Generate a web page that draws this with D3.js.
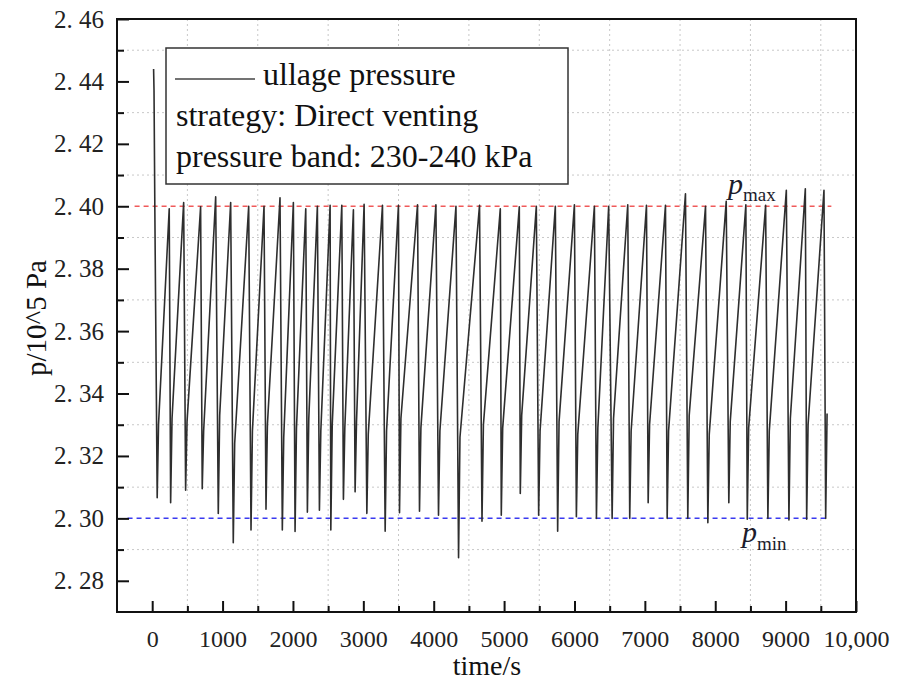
<!DOCTYPE html>
<html>
<head>
<meta charset="utf-8">
<script src="https://cdn.jsdelivr.net/npm/d3@7"></script>
<style>
  body { margin: 0; background: #fff; }
  svg text { font-family: "Liberation Serif", "Times New Roman", serif !important; }
</style>
</head>
<body>
<div id="chart"></div>
<script>
// ---- data
// start of the record: spike from the initial fill pressure
var startT = [20, 26, 38, 71];
var startP = [2.4440, 2.4370, 2.3980, 2.3066];

// top of every venting cycle (s, 10^5 Pa)
var peakT = [242, 447, 688, 902, 1115, 1371, 1589, 1816, 2006, 2182,
             2347, 2528, 2694, 2859, 3011, 3272, 3499, 3770, 4031, 4316,
             4651, 4946, 5216, 5458, 5728, 5999, 6283, 6486, 6757, 7023,
             7293, 7577, 7862, 8156, 8435, 8716, 9010, 9280, 9545];
var peakP = [2.3992, 2.4012, 2.3998, 2.4030, 2.4012, 2.4000, 2.4000, 2.4027, 2.4012, 2.3992,
             2.4000, 2.4003, 2.4003, 2.3989, 2.4006, 2.4003, 2.4003, 2.4005, 2.4005, 2.4000,
             2.4003, 2.3992, 2.3998, 2.4000, 2.4000, 2.4005, 2.4000, 2.4000, 2.4005, 2.4003,
             2.4003, 2.4040, 2.4000, 2.4016, 2.4005, 2.4003, 2.4051, 2.4056, 2.4051];

// bottom of each vent drop
var troughT = [262, 475, 711, 939, 1152, 1404, 1617, 1849, 2030, 2205,
               2376, 2538, 2717, 2883, 3050, 3310, 3514, 3798, 4068, 4353,
               4686, 4960, 5230, 5491, 5761, 6027, 6312, 6535, 6785, 7047,
               7317, 7610, 7895, 8193, 8455, 8748, 9047, 9299, 9569];
var troughP = [2.3050, 2.3090, 2.3095, 2.3016, 2.2922, 2.2963, 2.3029, 2.2963, 2.2958, 2.3020,
               2.3026, 2.2963, 2.3061, 2.3085, 2.3016, 2.2959, 2.3018, 2.3023, 2.3010, 2.2874,
               2.2991, 2.3010, 2.3080, 2.3010, 2.2959, 2.3005, 2.3000, 2.3000, 2.3000, 2.3050,
               2.3000, 2.3000, 2.2986, 2.3050, 2.2997, 2.3000, 2.2995, 2.2997, 2.3000];

// quick rebound right after the vent closes, then the slow rise
var reboundT = [90, 282, 495, 731, 959, 1172, 1424, 1637, 1869, 2050, 2225,
                2396, 2558, 2737, 2903, 3070, 3330, 3534, 3818, 4088, 4373,
                4706, 4980, 5250, 5511, 5781, 6047, 6332, 6555, 6805, 7067,
                7337, 7630, 7915, 8213, 8475, 8768, 9067, 9319, 9589];
var reboundP = [2.3300, 2.3320, 2.3310, 2.3280, 2.3330, 2.3240, 2.3280, 2.3300, 2.3260, 2.3290, 2.3320,
                2.3280, 2.3300, 2.3290, 2.3310, 2.3270, 2.3280, 2.3320, 2.3290, 2.3280, 2.3260,
                2.3300, 2.3290, 2.3330, 2.3280, 2.3310, 2.3270, 2.3290, 2.3320, 2.3280, 2.3300,
                2.3280, 2.3330, 2.3270, 2.3310, 2.3290, 2.3280, 2.3320, 2.3300, 2.3336];

var pMax = 2.40, pMin = 2.30;
var bandT = [-250, 9650];

var xMajor = [0, 1000, 2000, 3000, 4000, 5000, 6000, 7000, 8000, 9000, 10000];
var xMinor = [500, 1500, 2500, 3500, 4500, 5500, 6500, 7500, 8500, 9500];
var yMajor = [2.28, 2.30, 2.32, 2.34, 2.36, 2.38, 2.40, 2.42, 2.44, 2.46];
var yMinor = [2.29, 2.31, 2.33, 2.35, 2.37, 2.39, 2.41, 2.43, 2.45];

var legendLines = ["ullage pressure", "strategy: Direct venting", "pressure band: 230-240 kPa"];

// ---- plotting init
var W = 897, H = 682;
var plot = {left: 117, right: 856, top: 19, bottom: 612};

var svg = d3.select("#chart")
  .append("svg")
    .attr("width", W)
    .attr("height", H);

var xScale = d3.scaleLinear()
    .domain([-500, 10000])
    .range([plot.left, plot.right]);

var yScale = d3.scaleLinear()
    .domain([2.27, 2.46])
    .range([plot.bottom, plot.top]);

// build the series in time order
var series = [];
startT.forEach((t, i) => series.push({x: t, y: startP[i]}));
series.push({x: reboundT[0], y: reboundP[0]});
peakT.forEach((t, i) => {
    series.push({x: t, y: peakP[i]});
    series.push({x: troughT[i], y: troughP[i]});
    series.push({x: reboundT[i + 1], y: reboundP[i + 1]});
});

// grid (dotted, on the minor positions)
svg.append("g").selectAll("line.gx")
  .data(xMinor).enter().append("line")
    .attr("x1", d => xScale(d)).attr("x2", d => xScale(d))
    .attr("y1", plot.top).attr("y2", plot.bottom)
    .attr("stroke", "#c8c8c8").attr("stroke-width", 1)
    .attr("stroke-dasharray", "2,3");

svg.append("g").selectAll("line.gy")
  .data(yMinor).enter().append("line")
    .attr("x1", plot.left).attr("x2", plot.right)
    .attr("y1", d => yScale(d)).attr("y2", d => yScale(d))
    .attr("stroke", "#c8c8c8").attr("stroke-width", 1)
    .attr("stroke-dasharray", "2,3");

// pressure band lines
svg.append("line")
    .attr("x1", xScale(bandT[0])).attr("x2", xScale(bandT[1]))
    .attr("y1", yScale(pMax)).attr("y2", yScale(pMax))
    .attr("stroke", "#f05a5a").attr("stroke-width", 1.5)
    .attr("stroke-dasharray", "5,4");

svg.append("line")
    .attr("x1", xScale(bandT[0] - 100)).attr("x2", xScale(bandT[1] - 50))
    .attr("y1", yScale(pMin)).attr("y2", yScale(pMin))
    .attr("stroke", "#3a3af0").attr("stroke-width", 1.5)
    .attr("stroke-dasharray", "5,4");

// the pressure trace
var line = d3.line()
    .x(d => xScale(d.x))
    .y(d => yScale(d.y));

svg.append("path")
    .datum(series)
    .attr("d", line)
    .attr("fill", "none")
    .attr("stroke", "#2e2e2e")
    .attr("stroke-width", 1.6)
    .attr("stroke-linejoin", "round");

// axes, ticks pointing inward
var xAxis = svg.append("g")
    .attr("transform", "translate(0," + plot.bottom + ")")
    .call(d3.axisBottom(xScale).tickValues(xMajor).tickSize(-11).tickPadding(18)
          .tickFormat(d => d === 10000 ? "10,000" : d3.format("d")(d)));
svg.append("g")
    .attr("transform", "translate(0," + plot.bottom + ")")
    .call(d3.axisBottom(xScale).tickValues(xMinor).tickSize(-6).tickFormat(""));

var yAxis = svg.append("g")
    .attr("transform", "translate(" + plot.left + ",0)")
    .call(d3.axisLeft(yScale).tickValues(yMajor).tickSize(-12).tickPadding(13)
          .tickFormat(d => d.toFixed(2).replace(".", ". ")));
svg.append("g")
    .attr("transform", "translate(" + plot.left + ",0)")
    .call(d3.axisLeft(yScale).tickValues(yMinor).tickSize(-7).tickFormat(""));

svg.selectAll(".domain").remove();
svg.selectAll(".tick line").attr("stroke", "#111").attr("stroke-width", 2);
xAxis.selectAll("text").attr("font-size", 24).attr("fill", "#222");
yAxis.selectAll("text").attr("font-size", 25).attr("fill", "#222");

// frame
svg.append("rect")
    .attr("x", plot.left).attr("y", plot.top)
    .attr("width", plot.right - plot.left).attr("height", plot.bottom - plot.top)
    .attr("fill", "none").attr("stroke", "#111").attr("stroke-width", 2);

// axis titles
svg.append("text")
    .attr("x", 487).attr("y", 675)
    .attr("text-anchor", "middle")
    .attr("font-size", 28).attr("fill", "#111")
    .text("time/s");

svg.append("text")
    .attr("transform", "translate(46,318) rotate(-90)")
    .attr("text-anchor", "middle")
    .attr("font-size", 29).attr("fill", "#111")
    .text("p/10^5 Pa");

// band labels
var lmax = svg.append("text")
    .attr("x", 728).attr("y", 194)
    .attr("fill", "#1c1c2c");
lmax.append("tspan").attr("font-style", "italic").attr("font-size", 30).text("p");
lmax.append("tspan").attr("font-size", 19).attr("dy", 7).text("max");

var lmin = svg.append("text")
    .attr("x", 742).attr("y", 542)
    .attr("fill", "#1c1c2c");
lmin.append("tspan").attr("font-style", "italic").attr("font-size", 30).text("p");
lmin.append("tspan").attr("font-size", 19).attr("dy", 8).text("min");

// legend
var legend = svg.append("g");
legend.append("rect")
    .attr("x", 166).attr("y", 48)
    .attr("width", 402).attr("height", 136)
    .attr("fill", "#fff").attr("stroke", "#333").attr("stroke-width", 1.5);
legend.append("line")
    .attr("x1", 175).attr("x2", 255)
    .attr("y1", 79).attr("y2", 79)
    .attr("stroke", "#444").attr("stroke-width", 1.4);
legend.selectAll("text.lg")
  .data(legendLines).enter().append("text")
    .attr("x", (d, i) => i === 0 ? 263 : 176)
    .attr("y", (d, i) => 85 + i * 41)
    .attr("font-size", 32).attr("fill", "#111")
    .text(d => d);
</script>
</body>
</html>
